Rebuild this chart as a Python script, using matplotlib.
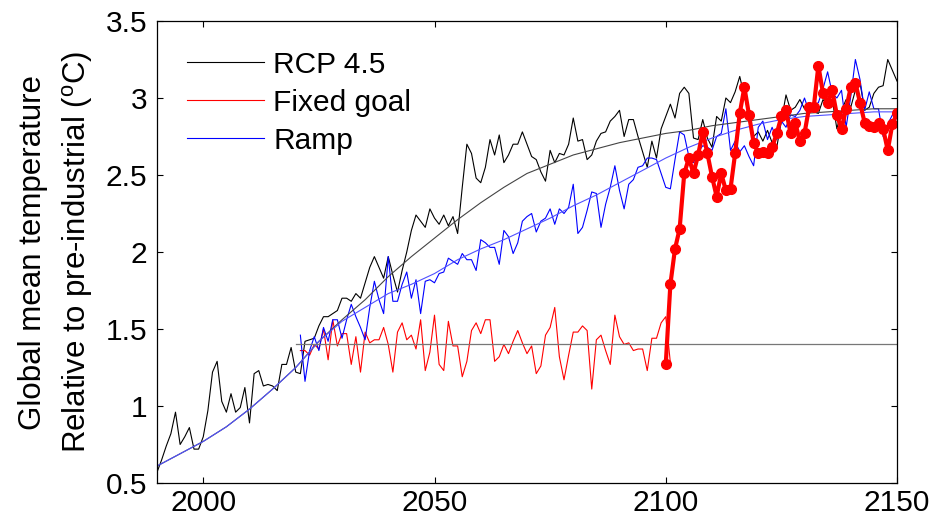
import numpy as np
import matplotlib
matplotlib.use("Agg")
import matplotlib.pyplot as plt
from matplotlib.ticker import FuncFormatter

# =======================
# DATA
# =======================
# RCP 4.5, annual, 1990-2150
rcp_start = 1990
rcp_vals = [
    0.57, 0.65, 0.74, 0.82, 0.96, 0.75, 0.80, 0.86, 0.72, 0.72,
    0.80, 0.97, 1.22, 1.29, 1.03, 0.96, 1.08, 0.96, 0.99, 1.12,
    0.89, 1.21, 1.23, 1.13, 1.14, 1.13, 1.10, 1.27, 1.27, 1.38,
    1.22, 1.21, 1.42, 1.43, 1.44, 1.52, 1.58, 1.58, 1.60, 1.62,
    1.70, 1.70, 1.68, 1.73, 1.70, 1.80, 1.90, 1.97, 1.90, 1.83,
    1.97, 1.85, 1.74, 1.88, 2.00, 2.14, 2.24, 2.20, 2.16, 2.28,
    2.22, 2.18, 2.24, 2.17, 2.23, 2.12, 2.42, 2.70, 2.64, 2.48,
    2.45, 2.55, 2.73, 2.63, 2.76, 2.58, 2.63, 2.70, 2.70, 2.78,
    2.70, 2.62, 2.60, 2.52, 2.46, 2.66, 2.58, 2.64, 2.63, 2.70,
    2.87, 2.72, 2.73, 2.60, 2.63, 2.72, 2.77, 2.78, 2.85, 2.88,
    2.92, 2.75, 2.86, 2.86, 2.75, 2.65, 2.55, 2.72, 2.61, 2.80,
    2.88, 2.96, 2.87, 3.03, 3.07, 3.03, 2.74, 2.73, 2.86, 2.74,
    2.68, 2.88, 2.85, 3.00, 2.97, 3.04, 3.14, 3.01, 2.89, 2.75,
    2.78, 2.72, 2.79, 2.71, 2.68, 2.85, 3.02, 2.92, 2.94, 2.99,
    2.93, 2.92, 2.91, 2.90, 2.99, 2.95, 2.99, 2.80, 2.92, 2.99,
    2.94, 3.05, 3.10, 2.92, 2.94, 3.03, 3.07, 3.08, 3.25, 3.18,
    3.11,
]

# Fixed goal, annual, 2021-2101
fixed_start = 2021
fixed_vals = [
    1.36, 1.36, 1.33, 1.40, 1.37, 1.50, 1.30, 1.56, 1.39, 1.47,
    1.47, 1.27, 1.45, 1.22, 1.48, 1.41, 1.43, 1.43, 1.51, 1.40,
    1.22, 1.48, 1.54, 1.43, 1.46, 1.37, 1.56, 1.23, 1.35, 1.59,
    1.27, 1.23, 1.55, 1.39, 1.39, 1.19, 1.29, 1.49, 1.54, 1.47,
    1.56, 1.56, 1.29, 1.32, 1.40, 1.34, 1.42, 1.49, 1.41, 1.34,
    1.39, 1.21, 1.26, 1.46, 1.51, 1.64, 1.32, 1.17, 1.33, 1.48,
    1.48, 1.52, 1.49, 1.11, 1.43, 1.46, 1.36, 1.27, 1.59, 1.45,
    1.40, 1.41, 1.36, 1.37, 1.37, 1.23, 1.44, 1.44, 1.54, 1.58,
    1.28,
]

# Ramp, annual, 2021-2150
ramp_start = 2021
ramp_vals = [
    1.46, 1.16, 1.36, 1.45, 1.36, 1.51, 1.42, 1.56, 1.56, 1.44,
    1.56, 1.66, 1.58, 1.51, 1.43, 1.64, 1.81, 1.69, 1.60, 1.97,
    1.68, 1.68, 1.79, 1.87, 1.70, 1.82, 1.60, 1.81, 1.82, 1.80,
    1.86, 1.87, 1.96, 1.94, 1.92, 1.99, 1.95, 1.95, 1.88, 2.08,
    2.06, 2.03, 2.03, 1.92, 2.14, 2.10, 1.99, 2.06, 2.20, 2.23,
    2.25, 2.13, 2.20, 2.22, 2.28, 2.18, 2.28, 2.25, 2.29, 2.44,
    2.12, 2.16, 2.27, 2.39, 2.38, 2.16, 2.31, 2.42, 2.56, 2.40,
    2.28, 2.44, 2.47, 2.55, 2.56, 2.61, 2.61, 2.60, 2.51, 2.42,
    2.41, 2.60, 2.78, 2.76, 2.62, 2.58, 2.65, 2.69, 2.68, 2.66,
    2.75, 2.77, 2.93, 2.66, 2.72, 2.65, 2.69, 2.62, 2.56, 2.81,
    2.85, 2.73, 2.81, 2.73, 2.85, 2.81, 2.89, 2.88, 2.92, 3.00,
    2.91, 2.95, 2.97, 3.06, 3.17, 3.03, 3.00, 3.05, 2.81, 3.01,
    3.25, 3.12, 2.92, 3.04, 2.93, 2.93, 2.75, 2.83, 2.89, 2.89,
]

# Smooth (forced) responses, every 5 years 1990-2150
smooth_years = list(range(1990, 2151, 5))
rcp_smooth = [
    0.61, 0.69, 0.77, 0.865, 0.98, 1.11, 1.25, 1.42, 1.56, 1.69,
    1.84, 1.97, 2.09, 2.21, 2.32, 2.42, 2.51, 2.57, 2.63, 2.67,
    2.71, 2.74, 2.77, 2.79, 2.82, 2.84, 2.86, 2.88, 2.90, 2.91,
    2.92, 2.93, 2.93,
]
ramp_smooth = [
    0.61, 0.69, 0.77, 0.865, 0.98, 1.11, 1.25, 1.42, 1.55, 1.64,
    1.73, 1.79, 1.86, 1.95, 2.02, 2.08, 2.15, 2.22, 2.30, 2.37,
    2.45, 2.53, 2.61, 2.68, 2.74, 2.79, 2.83, 2.86, 2.88, 2.89,
    2.90, 2.91, 2.91,
]

# Goal level line
goal_years = [2020, 2150]
goal_level = [1.4, 1.4]

# Fixed goal after the 2100 termination, annual 2100-2150
term_start = 2100
term_vals = [
    1.27, 1.79, 2.02, 2.15, 2.51, 2.61, 2.51, 2.63, 2.78, 2.64,
    2.49, 2.36, 2.51, 2.40, 2.41, 2.64, 2.90, 3.07, 2.89, 2.71,
    2.64, 2.65, 2.64, 2.68, 2.77, 2.88, 2.92, 2.77, 2.84, 2.72,
    2.77, 2.94, 2.94, 3.21, 3.03, 2.97, 3.05, 2.89, 2.80, 2.93,
    3.07, 3.10, 2.97, 2.84, 2.82, 2.81, 2.84, 2.80, 2.66, 2.83,
    2.90,
]

# =======================
# PLOT
# =======================
plt.rcParams["font.family"] = ["Liberation Sans", "DejaVu Sans"]
FS = 21.5

fig = plt.figure(figsize=(9.31, 5.20), dpi=100)
ax = fig.add_axes([157 / 931, 37 / 520, 740 / 931, 462 / 520])

rcp_years = np.arange(rcp_start, rcp_start + len(rcp_vals))
fixed_years = np.arange(fixed_start, fixed_start + len(fixed_vals))
ramp_years = np.arange(ramp_start, ramp_start + len(ramp_vals))
term_years = np.arange(term_start, term_start + len(term_vals))

ax.plot(rcp_years, rcp_vals, color="black", lw=0.8, label="RCP 4.5")
ax.plot(fixed_years, fixed_vals, color="red", lw=0.8, label="Fixed goal")
ax.plot(ramp_years, ramp_vals, color="blue", lw=0.8, label="Ramp")
ax.plot(smooth_years, rcp_smooth, color="#444444", lw=0.8)
ax.plot(smooth_years, ramp_smooth, color="#5050ff", lw=0.8)
ax.plot(goal_years, goal_level, color="#777777", lw=0.9)
ax.plot(term_years, term_vals, color="red", lw=3, marker="o", ms=7)

ax.set_xlim(1990, 2150)
ax.set_ylim(0.5, 3.5)
ax.set_xticks([2000, 2050, 2100, 2150])
ax.set_yticks(np.arange(0.5, 3.51, 0.5))
ax.yaxis.set_major_formatter(FuncFormatter(lambda v, p: f"{v:g}"))
ax.tick_params(direction="in", top=True, right=True, length=4, width=0.8,
               labelsize=FS)
ax.tick_params(axis="y", pad=7)
ax.tick_params(axis="x", pad=4)
for s in ax.spines.values():
    s.set_linewidth(0.9)

ax.set_ylabel("Global mean temperature\nRelative to pre-industrial ($\\mathregular{^o}$C)",
              fontsize=22.5, labelpad=8, linespacing=1.45)

ax.legend(loc="upper left", bbox_to_anchor=(0.04, 0.936), frameon=False,
          fontsize=FS, handlelength=2.6, handletextpad=0.3, labelspacing=0.34,
          borderpad=0, borderaxespad=0)

fig.savefig("out.png", dpi=100)
